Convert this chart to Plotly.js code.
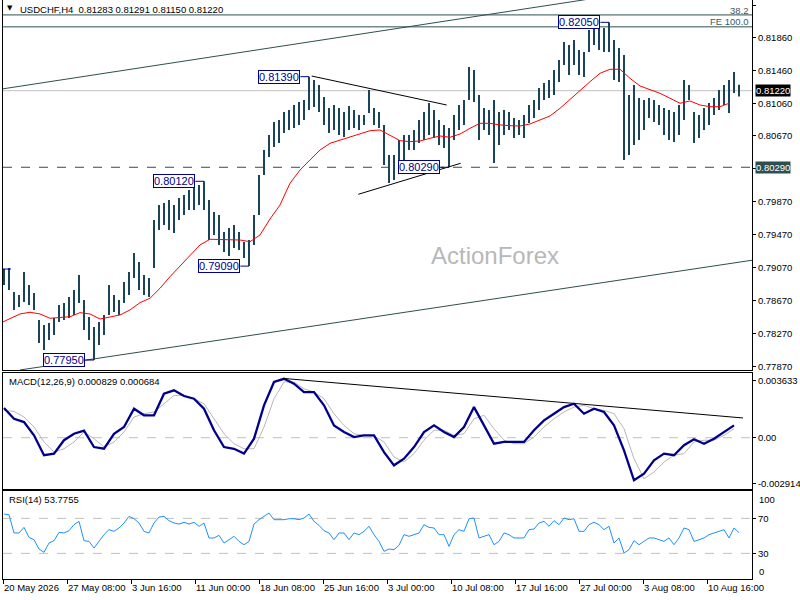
<!DOCTYPE html>
<html><head><meta charset="utf-8">
<script src="https://cdn.plot.ly/plotly-3.0.1.min.js"></script>
<style>html,body{margin:0;padding:0;background:#fff}#chart{width:800px;height:600px}</style>
</head><body><div id="chart"></div>
<script>
// ---- data ----
const tickLabels = ["20 May 2026","27 May 08:00","3 Jun 16:00","11 Jun 00:00","18 Jun 08:00","25 Jun 16:00","3 Jul 00:00","10 Jul 08:00","17 Jul 16:00","27 Jul 00:00","3 Aug 08:00","10 Aug 16:00"];

const highs = [0.79055,0.79068,0.78776,0.7874,0.79019,0.78861,0.78764,0.78436,0.78376,0.784,
0.78461,0.78618,0.78643,0.78715,0.788,0.78983,0.78679,0.78473,0.78351,0.78412,
0.78497,0.78861,0.7874,0.78679,0.78898,0.79019,0.7925,0.7914,0.78983,0.78946,
0.7965,0.79832,0.79857,0.79893,0.79832,0.79917,0.79954,0.80014,0.80039,0.80075,
0.8012,0.79893,0.79747,0.79711,0.79505,0.79553,0.7959,0.79505,0.79383,0.79407,
0.79711,0.80197,0.805,0.80682,0.8084,0.80864,0.80961,0.80986,0.81046,0.81083,
0.81107,0.8139,0.8135,0.81289,0.81143,0.8101,0.81046,0.8101,0.80961,0.81034,
0.80986,0.80925,0.80925,0.81228,0.8101,0.80961,0.80804,0.80439,0.80439,0.80621,
0.80682,0.80682,0.80743,0.80864,0.80961,0.81071,0.80986,0.80864,0.80804,0.80767,
0.80925,0.81046,0.81107,0.81508,0.81471,0.81168,0.8101,0.80986,0.81107,0.80961,
0.80986,0.80961,0.80889,0.80864,0.80925,0.81046,0.81107,0.81253,0.81313,0.8135,
0.81471,0.81593,0.81811,0.81775,0.81835,0.81714,0.8169,0.81957,0.82018,0.82018,
0.81981,0.8205,0.81835,0.81738,0.81653,0.81168,0.81289,0.81131,0.81107,0.81131,
0.81107,0.81046,0.8101,0.80986,0.80961,0.81046,0.8135,0.81289,0.80961,0.80925,
0.8101,0.81071,0.81131,0.81228,0.81289,0.8135,0.81447,0.81291];

const lows = [0.78861,0.788,0.78558,0.78594,0.78655,0.78618,0.78558,0.78157,0.78072,0.78193,
0.78254,0.78412,0.78436,0.78461,0.78497,0.78643,0.78315,0.78193,0.7795,0.78133,
0.78254,0.78497,0.78533,0.78497,0.78643,0.7874,0.78946,0.788,0.7874,0.78715,
0.79068,0.79529,0.7959,0.79529,0.79492,0.7965,0.79711,0.79772,0.79772,0.79832,
0.79772,0.79407,0.79468,0.79347,0.79262,0.79213,0.7931,0.79286,0.79189,0.7909,
0.79347,0.79711,0.80197,0.80415,0.80536,0.80585,0.80706,0.80743,0.80767,0.80804,
0.80864,0.80986,0.81022,0.80961,0.80804,0.80706,0.80743,0.80682,0.80658,0.80743,
0.80767,0.80743,0.80804,0.80949,0.80804,0.80767,0.80318,0.80099,0.80136,0.80282,
0.80379,0.805,0.805,0.80585,0.80621,0.80682,0.80646,0.80561,0.80524,0.8029,
0.80621,0.80743,0.80804,0.81107,0.81083,0.80621,0.80743,0.80682,0.80342,0.80561,
0.80682,0.80743,0.80646,0.80682,0.80646,0.80828,0.80889,0.80986,0.81107,0.81131,
0.81168,0.81326,0.81532,0.81411,0.81532,0.81411,0.81386,0.8169,0.81775,0.81714,
0.8169,0.8169,0.8135,0.81326,0.80379,0.80439,0.80561,0.80621,0.80743,0.80889,
0.8084,0.80804,0.80682,0.80621,0.80597,0.80682,0.80864,0.81107,0.80585,0.80646,
0.80743,0.80804,0.80925,0.80986,0.81046,0.80949,0.81192,0.8115];

const maValues = [0.78396,0.78457,0.78509,0.7853,0.78509,0.78457,0.78469,0.78476,0.78525,0.78509,
0.78448,0.78469,0.78497,0.78558,0.78646,0.787,0.78821,0.78962,0.79092,0.79225,
0.79347,0.79416,0.79416,0.79407,0.79407,0.79387,0.79468,0.79662,0.79832,0.80096,
0.80257,0.80379,0.805,0.80581,0.80621,0.80654,0.80694,0.80734,0.80743,0.80682,
0.80613,0.80601,0.80609,0.80642,0.8067,0.80654,0.80694,0.80763,0.80824,0.80824,
0.80804,0.80795,0.80791,0.80816,0.80864,0.80913,0.81006,0.81116,0.8122,0.81329,
0.81431,0.8148,0.8148,0.8137,0.81277,0.81228,0.81188,0.81128,0.81067,0.81095,
0.81046,0.81026,0.81026,0.81071];

const macdValues = [0.00188,0.0012,0.00099,0.00015,-0.00111,-0.00101,-0.00016,0.00025,0.00045,-0.00059,
-0.0007,0.00025,0.00068,0.00184,0.00142,0.00142,0.00279,0.003,0.00264,0.00247,
0.00184,0.00047,-0.00059,-0.0007,-0.00101,-0.00006,0.00205,0.00353,0.00373,0.00342,
0.00289,0.00289,0.00205,0.00078,0.00036,0.00004,0.00015,0.00015,-0.00091,-0.00175,
-0.00133,-0.00059,0.00036,0.00078,0.00036,0.00004,0.00068,0.00194,0.00078,-0.00038,
-0.00027,-0.00027,-0.00027,0.00047,0.0011,0.00152,0.00194,0.00215,0.00152,0.00184,
0.00163,0.00078,-0.0008,-0.0027,-0.00228,-0.00143,-0.00101,-0.00111,-0.00048,-0.0001,
-0.00038,-0.00006,0.00036,0.00078];

const signalValues = [0.00173,0.00167,0.00131,0.00068,-0.00027,-0.00091,-0.0007,-0.00027,0.00036,-0.00006,
-0.00059,-0.00027,0.00036,0.00131,0.00152,0.00163,0.00215,0.00268,0.00268,0.00247,
0.00215,0.0012,0.00025,-0.00038,-0.0007,-0.0007,0.00068,0.00247,0.00353,0.00353,
0.0031,0.00289,0.00247,0.00152,0.00078,0.00025,0.00015,0.00011,-0.00027,-0.00122,
-0.00154,-0.00101,-0.00016,0.00047,0.00047,0.00015,0.00025,0.0012,0.00142,0.00057,
-0.00016,-0.00038,-0.00038,0.00004,0.00068,0.0012,0.00163,0.00194,0.00205,0.00184,
0.00173,0.00152,0.00057,-0.00133,-0.0026,-0.00217,-0.00154,-0.00111,-0.00101,-0.00027,
-0.00016,-0.00016,0.00015,0.00057];

const rsiValues = [75,74.2,53.3,53.3,59.7,48.3,45.6,35,31.2,41.8,
44.5,54,53.3,55.9,62.8,66.6,44.5,43.7,36.1,43.7,
51.4,57.1,55.2,59,64.7,72.3,69.6,64.7,55.2,53.3,
64.7,71.5,72.3,67.4,64.7,63.5,65.5,63.5,65.5,60.9,
64.7,47.6,47.6,50.6,41.8,45.6,49.5,43.7,39.9,43.7,
63.5,68.5,72.3,76.1,68.5,68.5,68.5,69.6,69.6,68.5,
70.4,75,66.6,62,55.9,53.3,45.6,53.3,53.3,45.6,
53.3,51.4,55.2,60.9,51.4,43.7,32.3,35,34.2,39.2,
51.4,49.5,51.4,53.3,62.8,59.7,59,51.4,51.4,38,
51.4,57.1,55.2,69.6,70.4,47.6,49.5,51.4,39.9,43.7,
53.3,51.4,47.6,47.6,47.6,57.1,57.8,64.7,66.6,60.9,
67.4,62.8,70.4,68.5,69.6,55.2,55.2,62.8,65.5,62.8,
57.1,60.9,41.8,47.6,30.4,34.2,44.5,39.9,43.7,47.6,
47.6,45.6,43.7,47.6,39.9,47.6,59,57.1,43.7,45.6,
47.6,51.4,53.3,55.2,57.1,47.6,59,53.78];

const priceTicks = [0.8226,0.8186,0.8146,0.8106,0.8067,0.8027,0.7987,0.7947,0.7907,0.7867,0.7827,0.7787];
const priceTickText = ["0.82260","0.81860","0.81460","0.81060","0.80670","","0.79870","0.79470","0.79070","0.78670","0.78270","0.77870"];
const macdTicks = [0.003633,0,-0.002914];
const macdTickText = ["0.003633","0.00","-0.002914"];
const rsiTicks = [70,30];

const swingTexts = ["0.77950","0.80120","0.79090","0.81390","0.80290","0.82050"];
const swingPrices = [0.7795,0.8012,0.7909,0.8139,0.8029,0.8205];
const swingSample = [18,40,49,61,89,121];

const currentPrice = 0.8122, supportLevel = 0.8029, fib382 = 0.8214, fe100 = 0.81995;
const channelUpper = [[-2,0.81237],[293,0.82334]];
const channelLower = [[8,0.77829],[375,0.79165]];
const triangleUpper = [[153.85,0.81398],[221.35,0.81046]];
const triangleLower = [[177.15,0.79962],[228.35,0.80339]];
const macdTrend = [[139.5,0.00376],[369.5,0.00125]];

// ---- build ----
const FONT = 'Liberation Sans, Arial, sans-serif';
const FS = 9.5;
const SLATE = '#2f4f4f', NAVY = '#00008b';
const barX = highs.map((_, k) => k * 2.5);
const maX = maValues.map((_, j) => j * 5 - 2);
const macdX = macdValues.map((_, j) => j * 5);

const bx = [], by = [];
highs.forEach((h, k) => { bx.push(barX[k], barX[k], null); by.push(lows[k], h, null); });

const traces = [
  {x: bx, y: by, type: 'scatter', mode: 'lines', line: {color: '#1a4459', width: 2}, xaxis: 'x', yaxis: 'y', hoverinfo: 'skip'},
  {x: maX, y: maValues, type: 'scatter', mode: 'lines', line: {color: '#ff0000', width: 1}, xaxis: 'x', yaxis: 'y', hoverinfo: 'skip'},
  {x: macdX, y: signalValues, type: 'scatter', mode: 'lines', line: {color: '#b8b8b8', width: 1}, xaxis: 'x2', yaxis: 'y2', hoverinfo: 'skip'},
  {x: macdX, y: macdValues, type: 'scatter', mode: 'lines', line: {color: NAVY, width: 2.3}, xaxis: 'x2', yaxis: 'y2', hoverinfo: 'skip'},
  {x: barX, y: rsiValues, type: 'scatter', mode: 'lines', line: {color: '#1e90ff', width: 1}, xaxis: 'x3', yaxis: 'y3', hoverinfo: 'skip'}
];

function hline(yref, v, color, dash) {
  return {type: 'line', xref: 'paper', x0: 0, x1: 1, yref: yref, y0: v, y1: v, line: {color: color, width: 1, dash: dash || 'solid'}, layer: 'below'};
}
function seg(pts, color, xref, yref) {
  return {type: 'line', xref: xref || 'x', yref: yref || 'y', x0: pts[0][0], y0: pts[0][1], x1: pts[1][0], y1: pts[1][1], line: {color: color, width: 1}};
}
const shapes = [
  hline('y', currentPrice, '#c0c0c0'),
  hline('y', supportLevel, SLATE, 'dash'),
  hline('y', fib382, SLATE),
  hline('y', fe100, SLATE),
  hline('y2', 0, '#c0c0c0', 'dash'),
  hline('y3', 70, '#c0c0c0', 'dash'),
  hline('y3', 30, '#c0c0c0', 'dash'),
  seg(channelUpper, SLATE), seg(channelLower, SLATE),
  seg(triangleUpper, '#000'), seg(triangleLower, '#000'),
  seg(macdTrend, '#000', 'x2', 'y2'),
  seg([[-2, highs[0]], [3.5, highs[0]]], NAVY)
];
swingSample.forEach((k, i) => {
  shapes.push(seg([[barX[k] - 4.3, swingPrices[i]], [barX[k], swingPrices[i]]], NAVY));
});

const H = 579;
const py = p => (H - p) / H;
const tf = {family: FONT, size: FS, color: '#000'};
const annotations = [
  {xref: 'paper', yref: 'paper', x: 0.003, y: py(8), xanchor: 'left', yanchor: 'middle', text: '\u25BC', showarrow: false, font: {family: 'DejaVu Sans', size: 7, color: '#000'}},
  {xref: 'paper', yref: 'paper', x: 0.02, y: py(9), xanchor: 'left', yanchor: 'middle', text: 'USDCHF,H4\u00a0\u00a00.81283 0.81291 0.81150 0.81220', showarrow: false, font: tf},
  {xref: 'paper', yref: 'paper', x: 0.005, y: py(381), xanchor: 'left', yanchor: 'middle', text: 'MACD(12,26,9) 0.000829 0.000684', showarrow: false, font: tf},
  {xref: 'paper', yref: 'paper', x: 0.005, y: py(499), xanchor: 'left', yanchor: 'middle', text: 'RSI(14) 53.7755', showarrow: false, font: tf},
  {xref: 'paper', yref: 'paper', x: 0.999, y: py(10), xanchor: 'right', yanchor: 'middle', text: '38.2', showarrow: false, font: {family: FONT, size: FS, color: '#3a5a6a'}},
  {xref: 'paper', yref: 'paper', x: 0.999, y: py(21.5), xanchor: 'right', yanchor: 'middle', text: 'FE 100.0', showarrow: false, font: {family: FONT, size: FS, color: '#3a5a6a'}},
  {xref: 'x', yref: 'y', x: 245.5, y: 0.79213, text: 'ActionForex', showarrow: false, font: {family: FONT, size: 24, color: '#b8b8b8'}},
  {xref: 'paper', yref: 'y', x: 1, xshift: 3, xanchor: 'left', y: currentPrice, text: currentPrice.toFixed(5), showarrow: false, bgcolor: '#000', borderpad: 0, font: {family: FONT, size: FS, color: '#fff'}},
  {xref: 'paper', yref: 'y', x: 1, xshift: 3, xanchor: 'left', y: supportLevel, text: supportLevel.toFixed(5), showarrow: false, bgcolor: SLATE, borderpad: 0, font: {family: FONT, size: FS, color: '#fff'}},
  {xref: 'paper', yref: 'y3', x: 1, xshift: 5, xanchor: 'left', y: 92, text: '100', showarrow: false, font: tf},
  {xref: 'paper', yref: 'y3', x: 1, xshift: 5, xanchor: 'left', y: 9, text: '0', showarrow: false, font: tf}
];
swingSample.forEach((k, i) => {
  annotations.push({xref: 'x', yref: 'y', x: barX[k] - 15, y: swingPrices[i], text: swingTexts[i], showarrow: false,
    xanchor: 'center', yanchor: 'middle', bgcolor: '#fff', bordercolor: NAVY, borderwidth: 1, borderpad: 0,
    font: {family: FONT, size: 11, color: NAVY}});
});

const axBase = {showgrid: false, zeroline: false, showline: true, linecolor: '#000', linewidth: 1};
const layout = {
  width: 800, height: 600, margin: {l: 3, r: 48, t: 0, b: 21},
  paper_bgcolor: '#fff', plot_bgcolor: '#fff', showlegend: false,
  xaxis: Object.assign({}, axBase, {domain: [0, 1], anchor: 'y', range: [-0.5, 374], showticklabels: false, ticks: ''}),
  xaxis2: Object.assign({}, axBase, {domain: [0, 1], anchor: 'y2', matches: 'x', mirror: true, showticklabels: false, ticks: ''}),
  xaxis3: Object.assign({}, axBase, {domain: [0, 1], anchor: 'y3', matches: 'x', mirror: true,
    tickmode: 'array', tickvals: tickLabels.map((_, i) => 32 * i - 0.5), ticktext: tickLabels, tickangle: 0,
    ticks: 'outside', ticklen: 4, tickcolor: '#000', ticklabelposition: 'outside right', tickfont: tf}),
  yaxis: Object.assign({}, axBase, {domain: [0.361, 1], anchor: 'x', side: 'right', mirror: true, range: [0.77829, 0.82321],
    tickmode: 'array', tickvals: priceTicks, ticktext: priceTickText, ticks: 'outside', ticklen: 3, tickcolor: '#000', tickfont: tf}),
  yaxis2: Object.assign({}, axBase, {domain: [0.15544, 0.35579], anchor: 'x2', side: 'right', mirror: true, range: [-0.00325, 0.0041],
    tickmode: 'array', tickvals: macdTicks, ticktext: macdTickText, ticks: 'outside', ticklen: 3, tickcolor: '#000', tickfont: tf}),
  yaxis3: Object.assign({}, axBase, {domain: [0, 0.15199], anchor: 'x3', side: 'right', mirror: true, range: [0.7, 101.3],
    tickmode: 'array', tickvals: rsiTicks, ticks: 'outside', ticklen: 3, tickcolor: '#000', tickfont: tf}),
  shapes: shapes, annotations: annotations
};
Plotly.newPlot('chart', traces, layout, {staticPlot: true, displayModeBar: false});
</script></body></html>
